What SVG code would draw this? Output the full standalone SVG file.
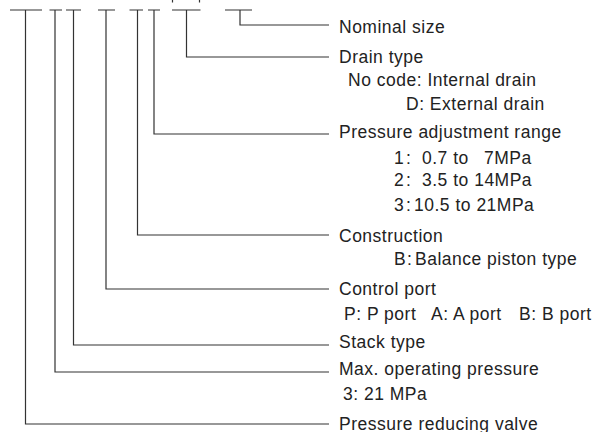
<svg xmlns="http://www.w3.org/2000/svg" width="594" height="432" viewBox="0 0 594 432">
<style>
.c{fill:none;stroke:#333;stroke-width:1.2}
.t{font-family:"Liberation Sans",Arial,Helvetica,sans-serif;font-size:17.5px;letter-spacing:0.5px;fill:#222}
</style>
<rect width="594" height="432" fill="#fff"/>
<g id="connectors">
<path class="c" d="M10 10H42M25.5 10V424H329"/>
<path class="c" d="M49.5 10H62M55 10V372H329"/>
<path class="c" d="M66 10H81M73.5 10V345H329"/>
<path class="c" d="M98 10H115M106 10V289H329"/>
<path class="c" d="M129.5 10H143M137.5 10V235H329"/>
<path class="c" d="M148 10H160M154 10V134H329"/>
<path class="c" d="M172 10H200.5M186.5 10V57H329"/>
<path class="c" d="M225 10H252M240 10V25H329"/>
<path class="c" d="M172.5 0V2.5M199.5 0V2.5"/>
</g>
<g id="nominal-size"><text class="t" x="339" y="32.5">Nominal size</text></g>
<g id="drain-type">
<text class="t" x="339" y="62.5">Drain type</text>
<text class="t" x="348" y="86">No code: Internal drain</text>
<text class="t" x="406" y="110">D: External drain</text>
</g>
<g id="pressure-adjustment-range">
<text class="t" x="339" y="138">Pressure adjustment range</text>
<text class="t" y="164"><tspan x="394">1</tspan><tspan x="406">:</tspan><tspan x="422">0.7 to</tspan><tspan x="484">7MPa</tspan></text>
<text class="t" y="186"><tspan x="394">2</tspan><tspan x="406">:</tspan><tspan x="422">3.5 to 14MPa</tspan></text>
<text class="t" y="211"><tspan x="394">3</tspan><tspan x="406">:</tspan><tspan x="414">10.5 to 21MPa</tspan></text>
</g>
<g id="construction">
<text class="t" x="339" y="242">Construction</text>
<text class="t" y="265"><tspan x="394">B</tspan><tspan x="407">:</tspan><tspan x="415">Balance piston type</tspan></text>
</g>
<g id="control-port">
<text class="t" x="339" y="295">Control port</text>
<text class="t" y="320"><tspan x="344">P: P port</tspan><tspan x="431">A: A port</tspan><tspan x="519">B: B port</tspan></text>
</g>
<g id="stack-type"><text class="t" x="339" y="348">Stack type</text></g>
<g id="max-operating-pressure">
<text class="t" x="339" y="375">Max. operating pressure</text>
<text class="t" x="343" y="400">3: 21 MPa</text>
</g>
<g id="pressure-reducing-valve"><text class="t" x="339" y="429.5">Pressure reducing valve</text></g>
</svg>
